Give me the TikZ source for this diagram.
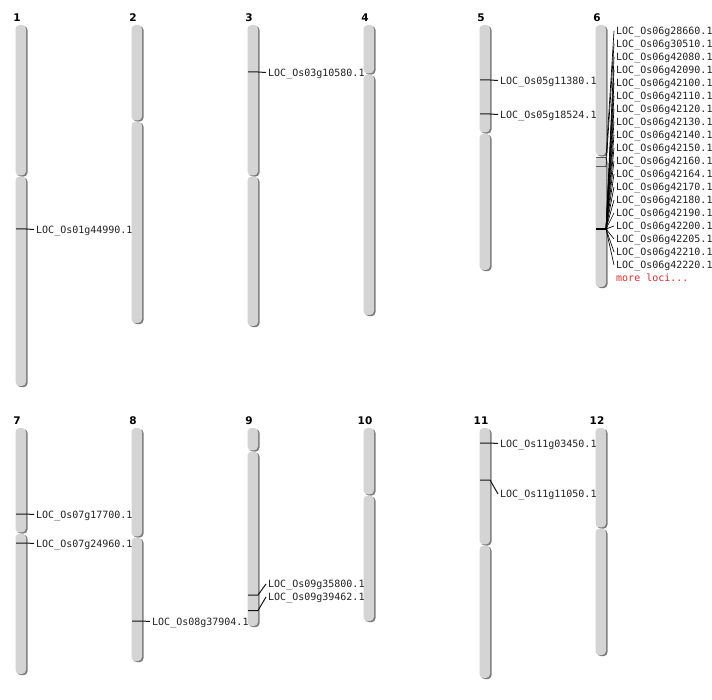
\documentclass[tikz,border=0pt]{standalone}
\usepackage{fontspec}
\setmonofont{DejaVu Sans Mono}
\setsansfont{DejaVu Sans}
\definecolor{chrfill}{HTML}{D4D4D4}
\definecolor{chrshade}{HTML}{7A7A7A}
\definecolor{lblcol}{HTML}{222222}
\definecolor{morecol}{HTML}{D03030}
\newcommand\chrarm[3]{%
  \fill[chrshade,rounded corners=4pt] (#1-4,#2+1) rectangle (#1+6.5,#3+1.2);
  \fill[chrfill,rounded corners=4pt] (#1-5.5,#2) rectangle (#1+5,#3);}
\newcommand\chromo[5]{% number, xc, top, cen, bottom
  \chrarm{#2}{#3}{#4-0.6}\chrarm{#2}{#4+0.6}{#5}}
\begin{document}
\begin{tikzpicture}[x=1pt,y=-1pt,
  lbl/.style={font=\ttfamily\fontsize{10}{12}\selectfont, anchor=west, inner xsep=2pt, inner ysep=0pt, text height=7.3pt, text depth=0pt, text=lblcol},
  num/.style={font=\sffamily\bfseries\fontsize{10.5}{12}\selectfont, inner sep=0pt, text=black},
  mk/.style={draw=black!92, line width=1pt},
  fan/.style={draw=black, line width=0.65pt}]
\useasboundingbox (0,0) rectangle (712,700);
\fill[white] (0,0) rectangle (712,700);
% chromosomes, row 1
\chromo{1}{21}{25}{176}{386}
\chromo{2}{137}{25}{121}{323}
\chromo{3}{253}{25}{176}{326}
\chromo{4}{369}{25}{74}{315}
\chromo{5}{485}{25}{133}{270}
\chromo{6}{601}{25}{156}{287}
% row 2
\chromo{7}{21}{428}{533}{674}
\chromo{8}{137}{428}{537}{661}
\chromo{9}{253}{428}{451}{626}
\chromo{10}{369}{428}{495}{621}
\chromo{11}{485}{428}{545}{678}
\chromo{12}{601}{428}{528}{655}
% numbers
\node[num] (n1) at (17,17.5) {1};
\node[num] (n2) at (133,17.5) {2};
\node[num] (n3) at (249,17.5) {3};
\node[num] (n4) at (365,17.5) {4};
\node[num] (n5) at (481,17.5) {5};
\node[num] (n6) at (597,17.5) {6};
\node[num] (n7) at (17,420.5) {7};
\node[num] (n8) at (133,420.5) {8};
\node[num] (n9) at (249,420.5) {9};
\node[num] (n10) at (365,420.5) {10};
\node[num] (n11) at (481,420.5) {11};
\node[num] (n12) at (597,420.5) {12};
% chr1
\coordinate (m1a) at (16,229); \coordinate (m1b) at (26,229);
\node[lbl] (l1) at (34,229.5) {LOC\_Os01g44990.1};
\draw[mk] (m1a) -- (m1b) -- (l1.west);
% chr3
\coordinate (m3a) at (248,72); \coordinate (m3b) at (258,72);
\node[lbl] (l3) at (266,72.5) {LOC\_Os03g10580.1};
\draw[mk] (m3a) -- (m3b) -- (l3.west);
% chr5
\coordinate (m5a) at (480,80); \coordinate (m5b) at (490,80);
\node[lbl] (l5a) at (498,80.5) {LOC\_Os05g11380.1};
\draw[mk] (m5a) -- (m5b) -- (l5a.west);
\coordinate (m5c) at (480,114); \coordinate (m5d) at (490,114);
\node[lbl] (l5b) at (498,114.5) {LOC\_Os05g18524.1};
\draw[mk] (m5c) -- (m5d) -- (l5b.west);
% chr6
\coordinate (m6a) at (596,158); \coordinate (m6b) at (606,158);
\coordinate (m6c) at (596,167); \coordinate (m6d) at (606,167);
\coordinate (m6e) at (596,229); \coordinate (m6f) at (606,229);
\draw[draw=black!65, line width=1pt] (m6a) -- (m6b);
\draw[draw=black!65, line width=1pt] (m6c) -- (m6d);
\draw[draw=black, line width=1.4pt] (m6e) -- (m6f);
\node[lbl] (g1) at (614,31) {LOC\_Os06g28660.1};
\node[lbl] (g2) at (614,44) {LOC\_Os06g30510.1};
\draw[fan] (m6b) -- (g1.west);
\draw[fan] (m6d) -- (g2.west);
\foreach \k/\g in {2/42080,3/42090,4/42100,5/42110,6/42120,7/42130,8/42140,9/42150,10/42160,11/42164,12/42170,13/42180,14/42190,15/42200,16/42205,17/42210,18/42220}{
  \node[lbl] (g\g) at (614,31+13*\k) {LOC\_Os06g\g.1};
  \draw[fan] (m6f) -- (g\g.west);
}
\node[lbl, text=morecol] (more) at (614,278) {more loci...};
% chr7
\coordinate (m7a) at (16,514); \coordinate (m7b) at (26,514);
\node[lbl] (l7a) at (34,514.5) {LOC\_Os07g17700.1};
\draw[mk] (m7a) -- (m7b) -- (l7a.west);
\coordinate (m7c) at (16,543); \coordinate (m7d) at (26,543);
\node[lbl] (l7b) at (34,543.5) {LOC\_Os07g24960.1};
\draw[mk] (m7c) -- (m7d) -- (l7b.west);
% chr8
\coordinate (m8a) at (132,621); \coordinate (m8b) at (142,621);
\node[lbl] (l8) at (150,621.5) {LOC\_Os08g37904.1};
\draw[mk] (m8a) -- (m8b) -- (l8.west);
% chr9
\coordinate (m9a) at (248,595); \coordinate (m9b) at (258,595);
\node[lbl] (l9a) at (266,584) {LOC\_Os09g35800.1};
\draw[mk] (m9a) -- (m9b) -- (l9a.west);
\coordinate (m9c) at (248,610.5); \coordinate (m9d) at (258,610.5);
\node[lbl] (l9b) at (266,597) {LOC\_Os09g39462.1};
\draw[mk] (m9c) -- (m9d) -- (l9b.west);
% chr11
\coordinate (m11a) at (480,443); \coordinate (m11b) at (490,443);
\node[lbl] (l11a) at (498,443.5) {LOC\_Os11g03450.1};
\draw[mk] (m11a) -- (m11b) -- (l11a.west);
\coordinate (m11c) at (480,480); \coordinate (m11d) at (490,480);
\node[lbl] (l11b) at (498,494) {LOC\_Os11g11050.1};
\draw[mk] (m11c) -- (m11d) -- (l11b.west);
\end{tikzpicture}
\end{document}
